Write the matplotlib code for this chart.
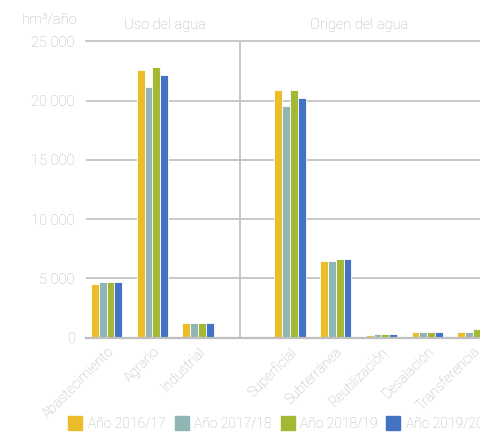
import numpy as np
import matplotlib.pyplot as plt
from matplotlib.lines import Line2D

plt.rcParams['font.family'] = ['Roboto', 'DejaVu Sans']
plt.rcParams['font.weight'] = 'light'

categorias = ['Abastecimiento', 'Agrario', 'Industrial', '',
              'Superficial', 'Subterránea', 'Reutilización', 'Desalación', 'Transferencia']
anios = ['Año 2016/17', 'Año 2017/18', 'Año 2018/19', 'Año 2019/20']

# hm3/año por categoría (el hueco separa uso y origen)
v_2016 = [4540, 22600, 1190, 0, 20880, 6460, 240, 430, 450]
v_2017 = [4660, 21130, 1200, 0, 19530, 6420, 270, 480, 470]
v_2018 = [4690, 22820, 1200, 0, 20880, 6590, 260, 480, 690]
v_2019 = [4660, 22170, 1190, 0, 20250, 6590, 270, 470, 650]
serie_vals = [v_2016, v_2017, v_2018, v_2019]
colores = ['#ECBD2B', '#8FB5B4', '#A3B833', '#4472C4']

yticks = [0, 5000, 10000, 15000, 20000, 25000]
ytick_lbl = ['0', '5 000', '10 000', '15 000', '20 000', '25 000']

gris_txt = '#B5B5B5'
gris_lin = '#BFBFBF'
fs = 10.5

fig = plt.figure(figsize=(4.81, 4.33), dpi=100)
ax = fig.add_axes([86 / 481, 95.5 / 433, 410 / 481, 296 / 433])

x = np.arange(len(categorias))
w = 0.172
for i, (vals, c) in enumerate(zip(serie_vals, colores)):
    vals = np.array(vals, dtype=float)
    mask = vals > 0
    ax.bar(x[mask] + (i - 1.5) * w, vals[mask], width=w, color=c,
           edgecolor='white', linewidth=0.6, zorder=3)

ax.set_xlim(-0.45, 8.5)
ax.set_ylim(0, 25000)
ax.set_yticks(yticks)
ax.set_yticklabels(ytick_lbl)
ax.yaxis.grid(True, color=gris_lin, linewidth=1.2, zorder=0)
for s in ax.spines.values():
    s.set_visible(False)
ax.axhline(0, color=gris_lin, linewidth=1.6, zorder=4, clip_on=False)
ax.axhline(25000, color=gris_lin, linewidth=1.2, zorder=0, clip_on=False)
ax.axvline(2.91, color=gris_lin, linewidth=1.2, zorder=1)

ax.tick_params(axis='both', length=0, colors=gris_txt, labelsize=fs)
ax.tick_params(axis='y', pad=8)
idx = [i for i, c in enumerate(categorias) if c]
ax.set_xticks(x[idx])
ax.set_xticklabels([categorias[i] for i in idx], rotation=45, ha='right',
                   va='top', rotation_mode='anchor', fontsize=10.2)
ax.tick_params(axis='x', pad=5)

fig.text(50 / 481, 1 - 20 / 433, 'hm³/año', color=gris_txt, fontsize=fs,
         ha='center', va='center')
fig.text(165 / 481, 1 - 25 / 433, 'Uso del agua', color=gris_txt, fontsize=fs,
         ha='center', va='center')
fig.text(359 / 481, 1 - 25 / 433, 'Origen del agua', color=gris_txt, fontsize=fs,
         ha='center', va='center')

handles = [Line2D([], [], marker='s', linestyle='none', markersize=10,
                  markerfacecolor=c, markeredgecolor=c) for c in colores]
fig.legend(handles, anios, loc='center left', bbox_to_anchor=(56 / 481, 1 - 424 / 433),
           ncol=4, frameon=False, fontsize=10, labelcolor=gris_txt,
           handletextpad=0.4, columnspacing=0.65, handlelength=1.0)

fig.savefig('out.png', dpi=100)
